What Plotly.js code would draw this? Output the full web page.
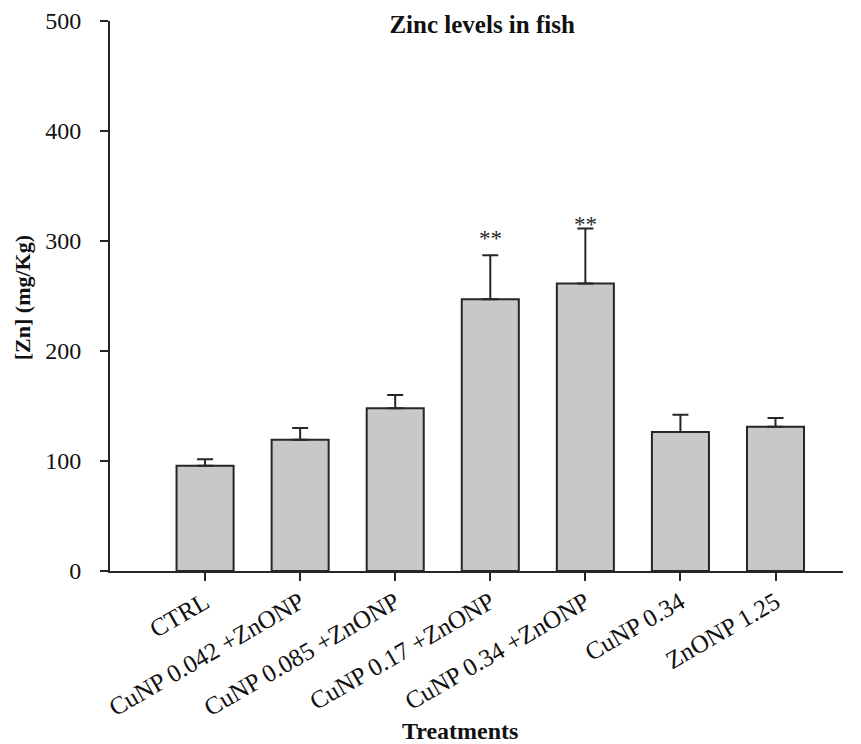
<!DOCTYPE html>
<html>
<head>
<meta charset="utf-8">
<script src="https://cdn.plot.ly/plotly-3.0.1.min.js"></script>
<style>html,body{margin:0;padding:0;background:#fff;}#chart{width:861px;height:744px;}</style>
</head>
<body>
<div id="chart"></div>
<script>
const categories = ["CTRL", "CuNP 0.042 +ZnONP", "CuNP 0.085 +ZnONP", "CuNP 0.17 +ZnONP", "CuNP 0.34 +ZnONP", "CuNP 0.34", "ZnONP 1.25"];
const zincMeans = [95.7, 119.3, 148, 247, 261.4, 126.3, 131.1];
const zincErrors = [6, 10.6, 12, 40, 50, 15.7, 8];
const significance = ["", "", "", "**", "**", "", ""];
const significanceLevel = [0, 0, 0, 289, 302, 0, 0];

const font = "Liberation Serif, Times New Roman, serif";
const idx = categories.map((c, i) => i);

const trace = {
  type: "bar",
  x: idx,
  y: zincMeans,
  width: 0.6,
  marker: {color: "#c8c8c8", line: {color: "#262626", width: 2}},
  error_y: {type: "data", symmetric: false, array: zincErrors, arrayminus: zincErrors.map(() => 0), color: "#262626", thickness: 2, width: 8},
  hoverinfo: "skip"
};

const annotations = significance.map((s, i) => ({
  x: i, y: significanceLevel[i], xref: "x", yref: "y",
  text: s, showarrow: false, yanchor: "bottom",
  font: {family: font, size: 23, color: "#262626"}
})).filter(a => a.text);

annotations.push({
  text: "<b>Treatments</b>", xref: "paper", yref: "paper", x: 0.477, y: -0.291,
  xanchor: "center", yanchor: "middle", showarrow: false,
  font: {family: font, size: 24, color: "#111"}
});
annotations.push({
  text: "<b>[Zn] (mg/Kg)</b>", xref: "paper", yref: "paper", x: -0.12, y: 0.496,
  xanchor: "center", yanchor: "middle", textangle: -90, showarrow: false,
  font: {family: font, size: 22, color: "#111"}
});

const layout = {
  width: 861, height: 744,
  margin: {l: 110, r: 18, t: 21, b: 173},
  paper_bgcolor: "#fff", plot_bgcolor: "#fff",
  showlegend: false,
  title: {text: "<b>Zinc levels in fish</b>", font: {family: font, size: 25, color: "#111"}, x: 0.56, xanchor: "center", y: 0.968, yanchor: "middle"},
  xaxis: {
    range: [-1, 6.71], tickmode: "array", tickvals: idx, ticktext: categories,
    tickangle: -30, ticks: "outside", ticklen: 8, tickwidth: 2, tickcolor: "#262626",
    ticklabelstandoff: -3,
    showline: true, linecolor: "#262626", linewidth: 2, showgrid: false, zeroline: false,
    tickfont: {family: font, size: 25, color: "#111"}
  },
  yaxis: {
    range: [0, 500], tickvals: [0, 100, 200, 300, 400, 500],
    ticks: "outside", ticklen: 8, tickwidth: 2, tickcolor: "#262626",
    ticklabelstandoff: 14,
    showline: true, linecolor: "#262626", linewidth: 2, showgrid: false, zeroline: false,
    tickfont: {family: font, size: 24, color: "#111"}
  },
  annotations: annotations
};

Plotly.newPlot("chart", [trace], layout, {displayModeBar: false, staticPlot: true});
</script>
</body>
</html>
